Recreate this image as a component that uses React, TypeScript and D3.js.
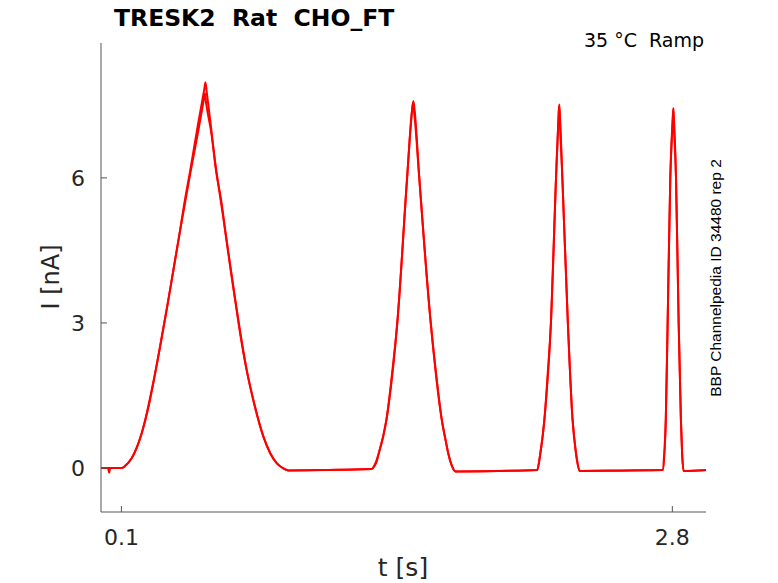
import React from "react";
import * as d3 from "d3";

// Trace A (rep with the higher first peak): time [s], current [nA]
const timeA = [
  0, 0.03, 0.036, 0.04, 0.044, 0.05, 0.1014, 0.12, 0.15, 0.175, 0.1995, 0.2368, 0.268, 0.2975, 0.3269,
  0.3545, 0.3823, 0.4083, 0.437, 0.475, 0.506, 0.512, 0.518, 0.535, 0.5636, 0.5915, 0.6126, 0.6356,
  0.66, 0.6846, 0.714, 0.75, 0.7955, 0.83, 0.861, 0.89, 0.918, 1.1, 1.327, 1.34, 1.35, 1.361, 1.38,
  1.399, 1.425, 1.452, 1.5, 1.525, 1.531, 1.537, 1.56, 1.616, 1.645, 1.67, 1.69, 1.702, 1.72, 1.737,
  1.95, 2.138, 2.145, 2.153, 2.163, 2.173, 2.19, 2.205, 2.23, 2.243, 2.246, 2.249, 2.261, 2.288, 2.311,
  2.32, 2.328, 2.338, 2.346, 2.55, 2.754, 2.76, 2.768, 2.777, 2.79, 2.803, 2.805, 2.807, 2.818, 2.831,
  2.842, 2.848, 2.855, 2.965,
];
const currentA = [
  0, 0, -0.02, -0.1, -0.02, 0, 0, 0.05, 0.2, 0.42, 0.72, 1.34, 2.02, 2.71, 3.4,
  4.09, 4.78, 5.47, 6.15, 7.1, 7.83, 7.98, 7.78, 7.2, 6.15, 5.47, 4.78, 4.09,
  3.4, 2.71, 2.02, 1.34, 0.65, 0.3, 0.1, 0.0, -0.05, -0.04, -0.02, 0.04, 0.12, 0.3, 0.6,
  1.0, 1.9, 3.0, 6.0, 7.4, 7.59, 7.4, 6.0, 3.0, 1.85, 1.0, 0.55, 0.3, 0.05, -0.07,
  -0.06, -0.04, 0.08, 0.3, 0.6, 1.0, 2.0, 3.0, 6.0, 7.3, 7.52, 7.3, 6.0, 3.0, 1.0,
  0.6, 0.3, 0.05, -0.06, -0.05, -0.04, 0.3, 1.0, 3.0, 6.0, 7.3, 7.44, 7.3, 6.0, 3.0,
  1.0, 0.3, -0.06, -0.04,
];

// Trace B (second rep, slightly lower first peak)
const timeB = [
  0, 0.1014, 0.12, 0.15, 0.1995, 0.268, 0.3269, 0.3823, 0.437, 0.478, 0.503, 0.509, 0.515, 0.54,
  0.5636, 0.6126, 0.66, 0.714, 0.75, 0.7955, 0.83, 0.861, 0.89, 0.918, 1.327, 1.345, 1.361, 1.399,
  1.452, 1.5, 1.523, 1.529, 1.535, 1.56, 1.616, 1.67, 1.69, 1.702, 1.737, 2.138, 2.153, 2.173, 2.205,
  2.23, 2.242, 2.245, 2.248, 2.261, 2.288, 2.311, 2.328, 2.346, 2.754, 2.768, 2.777, 2.79, 2.802,
  2.804, 2.806, 2.818, 2.831, 2.842, 2.848, 2.855, 2.965,
];
const currentB = [
  0, 0, 0.05, 0.2, 0.72, 2.02, 3.4, 4.78, 6.08, 7.0, 7.6, 7.75, 7.55, 6.95,
  6.2, 4.8, 3.42, 2.03, 1.35, 0.66, 0.3, 0.1, 0.0, -0.05, -0.02, 0.1, 0.3, 1.0,
  3.0, 5.98, 7.35, 7.55, 7.35, 5.98, 3.0, 1.0, 0.55, 0.3, -0.07, -0.04, 0.3, 1.0, 3.0,
  6.0, 7.25, 7.48, 7.25, 6.0, 3.0, 1.0, 0.3, -0.06, -0.04, 1.0, 3.0, 6.0, 7.2,
  7.4, 7.2, 6.0, 3.0, 1.0, 0.3, -0.06, -0.04,
];

const xTicks = [0.1, 2.8];
const yTicks = [0, 3, 6];
const xDomain = [0, 2.965];
const yDomain = [-0.91, 8.79];

const W = 778;
const H = 583;
const left = 101;
const right = 706;
const top = 43;
const bottom = 512;

export default function App() {
  const x = d3.scaleLinear().domain(xDomain).range([left, right]);
  const y = d3.scaleLinear().domain(yDomain).range([bottom, top]);
  const line = d3
    .line<[number, number]>()
    .x((d) => x(d[0]))
    .y((d) => y(d[1]))
    .curve(d3.curveMonotoneX);
  const dataA = timeA.map((t, i) => [t, currentA[i]] as [number, number]);
  const dataB = timeB.map((t, i) => [t, currentB[i]] as [number, number]);
  const axisColor = "#555";
  const textColor = "#262626";
  const font = "'DejaVu Sans', sans-serif";

  return (
    <svg
      width={W}
      height={H}
      style={{ position: "absolute", left: 0, top: 0, background: "#fff" }}
      fontFamily={font}
    >
      <rect x={0} y={0} width={W} height={H} fill="#fff" />
      <path d={line(dataB) || ""} fill="none" stroke="#ff0000" strokeWidth={2} strokeLinejoin="round" />
      <path d={line(dataA) || ""} fill="none" stroke="#ff0000" strokeWidth={2} strokeLinejoin="round" />

      {/* axes */}
      <line x1={left} x2={left} y1={top} y2={bottom} stroke={axisColor} strokeWidth={1} />
      <line x1={left} x2={right} y1={bottom} y2={bottom} stroke={axisColor} strokeWidth={1} />
      {yTicks.map((v) => (
        <g key={"y" + v}>
          <line x1={left} x2={left + 6} y1={y(v)} y2={y(v)} stroke={axisColor} strokeWidth={1} />
          <text x={left - 16} y={y(v) + 8} textAnchor="end" fontSize={22} fill={textColor}>
            {v}
          </text>
        </g>
      ))}
      {xTicks.map((v) => (
        <g key={"x" + v}>
          <line x1={x(v)} x2={x(v)} y1={bottom} y2={bottom - 6} stroke={axisColor} strokeWidth={1} />
          <text x={x(v)} y={545} textAnchor="middle" fontSize={22} fill={textColor}>
            {v}
          </text>
        </g>
      ))}
      <text x={403} y={576} textAnchor="middle" fontSize={25} fill={textColor}>
        t [s]
      </text>
      <text
        transform={`translate(59,277) rotate(-90)`}
        textAnchor="middle"
        fontSize={24}
        fill={textColor}
      >
        I [nA]
      </text>
      <text x={114} y={26} fontSize={23.5} fontWeight="bold" fill="#000" style={{ whiteSpace: "pre" }}>
        {"TRESK2  Rat  CHO_FT"}
      </text>
      <text x={704} y={47} textAnchor="end" fontSize={19} fill="#000" style={{ whiteSpace: "pre" }}>
        {"35 °C  Ramp"}
      </text>
      <text
        transform={`translate(721,278) rotate(-90)`}
        textAnchor="middle"
        fontSize={15.5}
        fontFamily="'Liberation Sans', Arial, sans-serif"
        fill="#000"
      >
        BBP Channelpedia ID 34480 rep 2
      </text>
    </svg>
  );
}
